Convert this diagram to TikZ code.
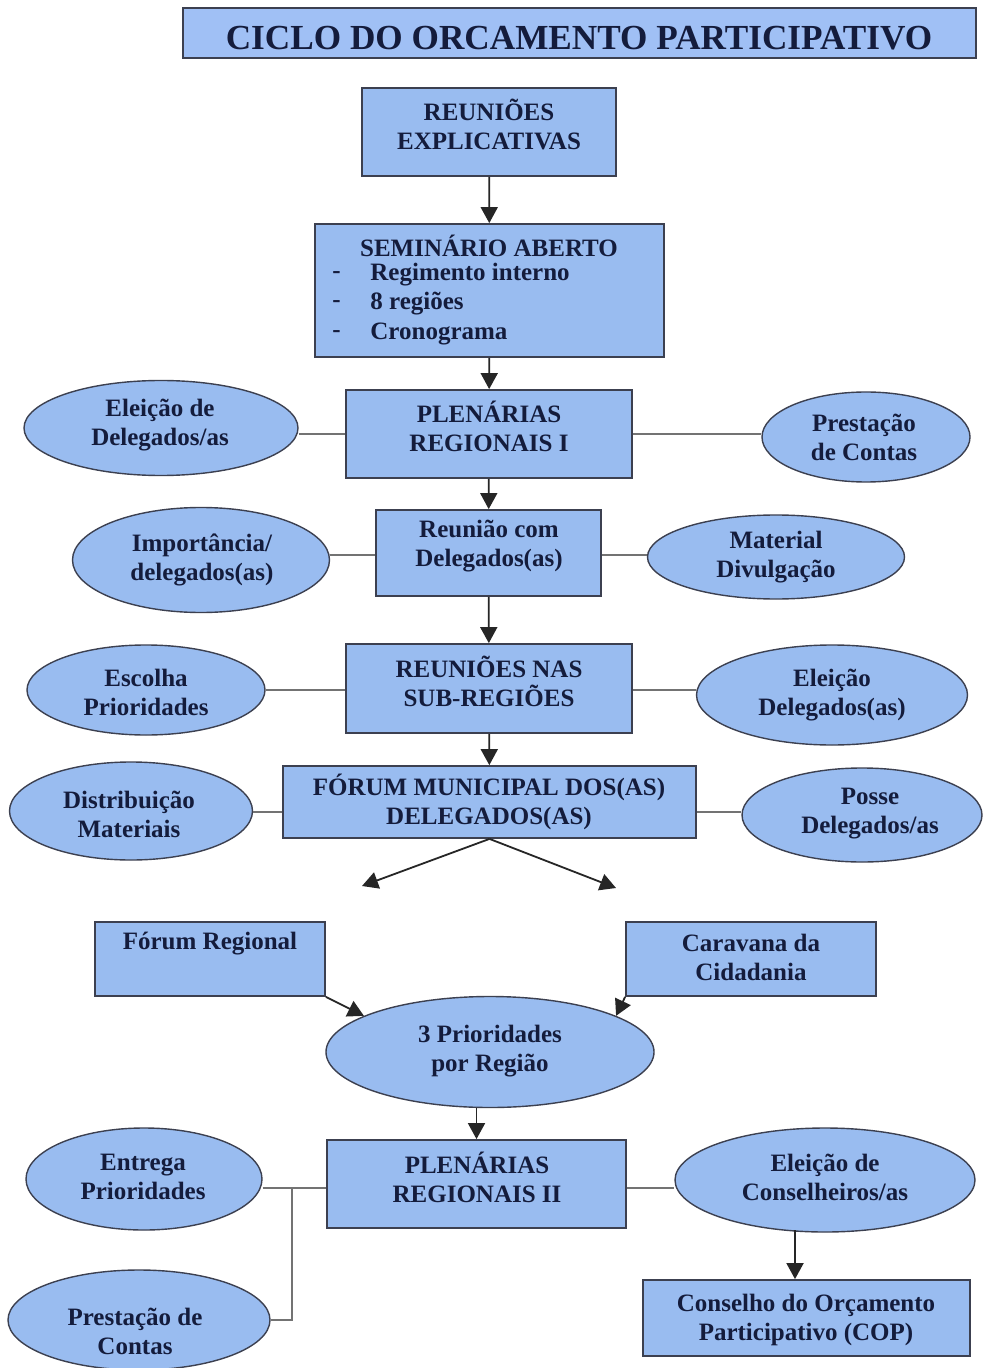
\documentclass[tikz,border=0pt]{standalone}
\usepackage{fontspec}
\setmainfont{Liberation Serif}
\usetikzlibrary{shapes.geometric,arrows.meta}
\definecolor{boxfill}{RGB}{153,188,240}
\definecolor{titlefill}{RGB}{160,192,245}
\definecolor{bordercol}{RGB}{60,64,80}
\definecolor{textcol}{RGB}{20,28,60}
\definecolor{linecol}{RGB}{115,115,115}
\newcommand\nodefont{\fontsize{12.5}{14.5}\selectfont\bfseries}
\newcommand\titlefont{\fontsize{17.6}{20}\selectfont\bfseries}
\begin{document}
\begin{tikzpicture}[x=0.5pt,y=-0.5pt,
  box/.style={draw=bordercol,fill=boxfill,line width=0.9pt,inner sep=0pt},
  oval/.style={ellipse,draw=bordercol,fill=boxfill,line width=0.7pt,inner sep=0pt},
  txt/.style={font=\nodefont,text=textcol,align=center,inner sep=0pt},
  ltxt/.style={font=\nodefont,text=textcol,anchor=west,inner sep=0pt},
  link/.style={draw=linecol,line width=1.1pt},
  arr/.style={draw=black!85,line width=0.9pt,-{Triangle[width=8.5pt,length=8pt]}}]
\useasboundingbox (0,0) rectangle (992,1368);
\fill[white] (0,0) rectangle (992,1368);
% title
\node[box,fill=titlefill,minimum width=396.5pt,minimum height=25pt] (title) at (579.5,33) {};
\node[font=\titlefont,text=textcol,inner sep=0pt] (titletext) at (579,38) {CICLO DO ORCAMENTO PARTICIPATIVO};
% box 1
\node[box,minimum width=127pt,minimum height=44pt] (b1) at (489,132) {};
\node[txt] (t1) at (489,124) {REUNIÕES\\EXPLICATIVAS};
% box 2
\node[box,minimum width=174.5pt,minimum height=66.5pt] (b2) at (489.5,290.5) {};
\node[txt] (t2) at (489,246) {SEMINÁRIO ABERTO};
\node[ltxt] (d1) at (332,275) {-};
\node[ltxt] (d2) at (332,304) {-};
\node[ltxt] (d3) at (332,334) {-};
\node[ltxt] (l1) at (370,275) {Regimento interno};
\node[ltxt] (l2) at (370,304) {8 regiões};
\node[ltxt] (l3) at (370,334) {Cronograma};
% box 3
\node[box,minimum width=143pt,minimum height=44pt] (b3) at (489,434) {};
\node[txt] (t3) at (489,426) {PLENÁRIAS\\REGIONAIS I};
\node[oval,minimum width=137pt,minimum height=47.5pt] (e1) at (161,428) {};
\node[txt] (te1) at (160,425) {Eleição de\\Delegados/as};
\node[oval,minimum width=104pt,minimum height=45pt] (e2) at (866,437) {};
\node[txt] (te2) at (864,437) {Prestação\\de Contas};
% box 4
\node[box,minimum width=112.5pt,minimum height=43pt] (b4) at (488.5,553) {};
\node[txt] (t4) at (489,546) {Reunião com\\Delegados(as)};
\node[oval,minimum width=128.5pt,minimum height=52.5pt] (e3) at (201,560) {};
\node[txt] (te3) at (202,560) {Importância/\\delegados(as)};
\node[oval,minimum width=128.5pt,minimum height=42pt] (e4) at (776,557) {};
\node[txt] (te4) at (776,557) {Material\\Divulgação};
% box 5
\node[box,minimum width=143pt,minimum height=44.5pt] (b5) at (489,688.5) {};
\node[txt] (t5) at (489,681) {REUNIÕES NAS\\SUB-REGIÕES};
\node[oval,minimum width=119pt,minimum height=45pt] (e5) at (146,690) {};
\node[txt] (te5) at (146,692) {Escolha\\Prioridades};
\node[oval,minimum width=135.5pt,minimum height=50pt] (e6) at (832,695) {};
\node[txt] (te6) at (832,695) {Eleição\\Delegados(as)};
% box 6
\node[box,minimum width=206.5pt,minimum height=36pt] (b6) at (489.5,802) {};
\node[txt] (t6) at (489,802) {FÓRUM MUNICIPAL DOS(AS)\\DELEGADOS(AS)};
\node[oval,minimum width=121.5pt,minimum height=49pt] (e7) at (131,811) {};
\node[txt] (te7) at (129,814) {Distribuição\\Materiais};
\node[oval,minimum width=120pt,minimum height=47pt] (e8) at (862,815) {};
\node[txt] (te8) at (870,814) {Posse\\Delegados/as};
\coordinate (f1) at (362,886);
\coordinate (f2) at (616,888);
% box 7 and 8
\node[box,minimum width=115pt,minimum height=37pt] (b7) at (210,959) {};
\node[txt] (t7) at (210,944) {Fórum Regional};
\node[box,minimum width=125pt,minimum height=37pt] (b8) at (751,959) {};
\node[txt] (t8) at (751,957) {Caravana da\\Cidadania};
\node[oval,minimum width=164pt,minimum height=55.5pt] (e9) at (490,1052) {};
\node[txt] (te9) at (490,1051) {3 Prioridades\\por Região};
% box 9
\node[box,minimum width=149.5pt,minimum height=44pt] (b9) at (476.5,1184) {};
\node[txt] (t9) at (477,1177) {PLENÁRIAS\\REGIONAIS II};
\node[oval,minimum width=118pt,minimum height=51pt] (e10) at (144,1179) {};
\node[txt] (te10) at (143,1177) {Entrega\\Prioridades};
\node[oval,minimum width=131pt,minimum height=50pt] (e11) at (139,1320) {};
\node[txt] (te11) at (135,1331) {Prestação de\\Contas};
\node[oval,minimum width=150pt,minimum height=52pt] (e12) at (825,1180) {};
\node[txt] (te12) at (825,1177) {Eleição de\\Conselheiros/as};
\node[box,minimum width=163.5pt,minimum height=38pt] (b10) at (806.5,1318) {};
\node[txt] (t10) at (806,1320) {Conselho do Orçamento\\Participativo (COP)};
\coordinate (j1) at (292,1188);
\coordinate (k1) at (795,1230);
% arrows
\draw[arr] (b1) -- (b2);
\draw[arr] (b2) -- (b3);
\draw[arr] (b3) -- (b4);
\draw[arr] (b4) -- (b5);
\draw[arr] (b5) -- (b6);
\draw[arr] (b6.south) -- (f1);
\draw[arr] (b6.south) -- (f2);
\draw[arr] (b7.south east) -- (e9.164);
\draw[arr] (b8.south west) -- (e9.16);
\draw[arr] (b9.north |- e9.south) -- (b9.north);
\draw[arr] (k1) -- (k1 |- b10.north);
% links
\draw[link] (e1.east |- b3) -- (b3.west);
\draw[link] (b3.east) -- (e2.west |- b3);
\draw[link] (e3.east |- 0,555) -- (b4.west |- 0,555);
\draw[link] (b4.east |- 0,555) -- (e4.west |- 0,555);
\draw[link] (e5.east |- 0,690) -- (b5.west |- 0,690);
\draw[link] (b5.east |- 0,690) -- (e6.west |- 0,690);
\draw[link] (e7.east |- 0,812) -- (b6.west |- 0,812);
\draw[link] (b6.east |- 0,812) -- (e8.west |- 0,812);
\draw[link] (e10.east |- j1) -- (b9.west |- j1);
\draw[link] (j1) |- (e11.east);
\draw[link] (b9.east |- j1) -- (e12.west |- j1);
\end{tikzpicture}
\end{document}
